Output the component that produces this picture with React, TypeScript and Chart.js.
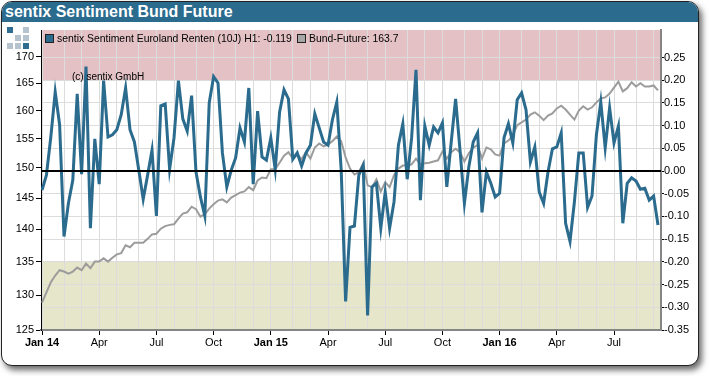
import React, { useEffect, useRef } from "react";
import { Chart, registerables } from "chart.js";

Chart.register(...registerables);

const sentimentValues = [
  -0.042, -0.009, 0.075, 0.174, 0.102, -0.144, -0.071, -0.02, 0.17, -0.007,
  0.23, -0.126, 0.071, -0.029, 0.199, 0.075, 0.08, 0.091, 0.124, 0.183,
  0.091, 0.064, 0.002, -0.062, -0.009, 0.046, -0.099, 0.144, 0.148, 0.004,
  0.073, 0.199, 0.115, 0.088, 0.166, -0.002, -0.057, -0.099, 0.15, 0.208,
  0.194, 0.04, -0.035, 0.002, 0.029, 0.095, 0.064, 0.183, -0.029, 0.132,
  0.031, 0.024, 0.073, 0.004, 0.13, 0.179, 0.159, 0.026, 0.04, 0.011,
  0.04, 0.057, 0.126, 0.095, 0.064, 0.057, 0.113, 0.152, 0.002, -0.287,
  -0.124, -0.121, -0.009, 0.013, -0.318, -0.035, -0.027, -0.126, -0.046, -0.126,
  -0.068, 0.057, 0.104, -0.018, 0.073, 0.223, -0.064, 0.099, 0.057, 0.097,
  0.084, 0.106, -0.035, 0.064, 0.159, 0.046, -0.071, 0.009, 0.064, 0.084,
  -0.091, -0.002, -0.027, -0.057, -0.049, 0.073, 0.104, 0.062, 0.157, 0.172,
  0.135, 0.02, 0.053, -0.046, -0.071, -0.002, 0.049, 0.053, 0.084, -0.115,
  -0.155, -0.068, 0.04, 0.04, -0.08, -0.055, 0.08, 0.152, 0.051, 0.139,
  0.062, 0.099, -0.115, -0.027, -0.015, -0.022, -0.04, -0.038, -0.064, -0.055,
  -0.119,
];

const bundFutureValues = [
  128.9, 130.4, 131.9, 132.9, 133.7, 133.5, 133.2, 133.5, 134.1, 133.7,
  134.7, 134.0, 135.0, 135.0, 135.5, 135.0, 135.6, 136.1, 136.3, 137.5,
  137.2, 137.9, 137.9, 137.9, 138.5, 139.2, 139.3, 140.1, 140.5, 140.7,
  140.8, 141.7, 142.5, 142.7, 143.6, 143.2, 142.0, 142.4, 143.3, 144.0,
  144.6, 144.8, 144.3, 145.1, 145.5, 145.9, 146.1, 146.8, 146.3, 147.9,
  148.4, 148.3, 149.8, 149.8, 150.9, 152.1, 152.7, 151.6, 152.3, 151.5,
  152.7, 151.6, 153.5, 154.2, 153.7, 154.0, 154.6, 155.4, 154.6, 151.8,
  149.9, 148.9, 149.3, 150.8, 147.1, 146.8, 148.1, 146.1, 147.6, 146.8,
  148.8, 149.9, 150.4, 150.4, 150.6, 151.6, 150.6, 150.8, 150.9, 151.1,
  151.3, 152.8, 151.6, 152.7, 153.3, 152.7, 151.1, 152.5, 153.5, 153.9,
  151.6, 153.5, 153.2, 152.3, 152.1, 154.2, 154.7, 155.6, 157.4, 157.9,
  158.4, 159.3, 159.7, 159.1, 158.3, 159.1, 159.5, 160.4, 160.9, 160.2,
  159.3, 158.4, 160.0, 160.8, 160.2, 160.6, 161.5, 162.2, 162.4, 163.1,
  164.2, 165.3, 163.5, 164.1, 165.2, 164.4, 165.0, 164.4, 164.4, 164.6,
  163.7,
];

const monthStartWeeks = [
  0, 5, 9, 13, 17, 22, 26, 30, 35, 39, 44, 48, 52, 57, 61, 65, 69, 74, 78, 83,
  87, 91, 96, 100, 104, 109, 113, 117, 122, 126, 130, 135, 139,
];
const labelledWeeks = [0, 13, 26, 39, 52, 65, 78, 91, 104, 117, 130];
const labelledNames = ["Jan 14", "Apr", "Jul", "Oct", "Jan 15", "Apr", "Jul", "Oct", "Jan 16", "Apr", "Jul"];
const leftTicks = [125, 130, 135, 140, 145, 150, 155, 160, 165, 170];
const rightTicks = [-0.35, -0.3, -0.25, -0.2, -0.15, -0.1, -0.05, 0, 0.05, 0.1, 0.15, 0.2, 0.25];

const FONT = '"Liberation Sans", Arial, sans-serif';
const BLUE = "#2a6b8e";

const logoCells: [number, number, string][] = [
  [7, 27, "#2f6d90"], [23, 27, "#b4c3cd"],
  [15, 35, "#b4c3cd"], [23, 35, "#b4c3cd"],
  [7, 43, "#b4c3cd"], [15, 43, "#b4c3cd"], [23, 43, "#2f6d90"],
];

const bandsAndZero = {
  id: "bandsAndZero",
  beforeDraw(chart: any) {
    const { ctx, chartArea: a, scales } = chart;
    const y = scales.yRight;
    ctx.save();
    ctx.fillStyle = "#e3c1c4";
    ctx.fillRect(a.left, a.top, a.width, y.getPixelForValue(0.2) - a.top);
    ctx.fillStyle = "#e6e6cb";
    const lo = y.getPixelForValue(-0.2);
    ctx.fillRect(a.left, lo, a.width, a.bottom - lo);
    ctx.restore();
  },
  afterDatasetsDraw(chart: any) {
    const { ctx, chartArea: a, scales } = chart;
    const z = scales.yRight.getPixelForValue(0);
    ctx.save();
    ctx.strokeStyle = "#000";
    ctx.lineWidth = 2;
    ctx.beginPath();
    ctx.moveTo(a.left, z);
    ctx.lineTo(a.right, z);
    ctx.stroke();
    ctx.restore();
  },
};

export default function App() {
  const ref = useRef<HTMLCanvasElement | null>(null);

  useEffect(() => {
    document.body.style.margin = "0";
    const chart = new Chart(ref.current as HTMLCanvasElement, {
      type: "line",
      plugins: [bandsAndZero],
      data: {
        datasets: [
          {
            label: "sentix Sentiment Euroland Renten (10J)",
            data: sentimentValues.map((v, i) => ({ x: i, y: v })),
            yAxisID: "yRight",
            borderColor: BLUE,
            borderWidth: 3,
            pointRadius: 0,
            tension: 0,
            borderJoinStyle: "miter",
          },
          {
            label: "Bund-Future",
            data: bundFutureValues.map((v, i) => ({ x: i, y: v })),
            yAxisID: "yLeft",
            borderColor: "#9c9c9c",
            borderWidth: 2,
            pointRadius: 0,
            tension: 0,
          },
        ],
      },
      options: {
        animation: false,
        responsive: false,
        layout: { padding: { left: 8, right: 21, top: 30, bottom: 16 } },
        plugins: { legend: { display: false }, title: { display: false }, tooltip: { enabled: false } },
        scales: {
          x: {
            type: "linear",
            min: -0.23,
            max: 140.68,
            afterBuildTicks: (s: any) => {
              s.ticks = monthStartWeeks.map((value) => ({ value }));
            },
            afterFit: (s: any) => {
              s.height = 30;
            },
            grid: {
              color: "#dcdcdc",
              lineWidth: 1,
              tickLength: 5,
              tickColor: (c: any) => (labelledWeeks.includes(c.tick?.value) ? "#000" : "rgba(0,0,0,0)"),
            },
            border: { display: true, color: "#858585", width: 2 },
            ticks: {
              autoSkip: false,
              maxRotation: 0,
              padding: 1,
              color: "#000",
              font: (c: any) => {
                const idx = labelledWeeks.indexOf(c.tick?.value);
                const bold = idx >= 0 && labelledNames[idx].startsWith("Jan");
                return { family: FONT, size: 11, weight: bold ? "bold" : "normal" };
              },
              callback: (v: any) => {
                const idx = labelledWeeks.indexOf(Number(v));
                return idx >= 0 ? labelledNames[idx] : "";
              },
            },
          },
          yLeft: {
            type: "logarithmic",
            position: "left",
            min: 125,
            max: 175.2,
            afterBuildTicks: (s: any) => {
              s.ticks = leftTicks.map((value) => ({ value }));
            },
            afterFit: (s: any) => {
              s.width = 33;
            },
            grid: { drawOnChartArea: false, tickLength: 5, tickColor: "#000" },
            border: { display: true, color: "#000", width: 1 },
            ticks: {
              padding: 2,
              color: "#000",
              autoSkip: false,
              font: { family: FONT, size: 11 },
              callback: (v: any) => String(v),
            },
          },
          yRight: {
            type: "linear",
            position: "right",
            min: -0.35,
            max: 0.3106,
            afterBuildTicks: (s: any) => {
              s.ticks = rightTicks.map((value) => ({ value }));
            },
            afterFit: (s: any) => {
              s.width = 28;
            },
            grid: { color: "#dcdcdc", lineWidth: 1, tickLength: 3, tickColor: "#000" },
            border: { display: true, color: "#858585", width: 2 },
            ticks: {
              padding: 0,
              crossAlign: "near",
              color: "#000",
              autoSkip: false,
              font: { family: FONT, size: 11 },
              callback: (v: any) => Number(v).toFixed(2),
            },
          },
        },
      },
    } as any);
    return () => chart.destroy();
  }, []);

  const textBase: React.CSSProperties = {
    position: "absolute",
    fontFamily: FONT,
    color: "#000",
    whiteSpace: "nowrap",
  };
  const swatch = (left: number, bg: string): React.CSSProperties => ({
    position: "absolute",
    left,
    top: 34,
    width: 7,
    height: 7,
    background: bg,
    border: "1px solid #222",
  });

  return (
    <div style={{ position: "relative", width: 710, height: 376, overflow: "hidden", background: "#fff" }}>
      <div
        style={{
          position: "absolute",
          left: 1,
          top: 1,
          width: 696,
          height: 363,
          borderRadius: 11,
          border: "1px solid #222",
          background: "#fff",
          boxShadow: "3px 4px 6px rgba(0,0,0,0.6)",
          overflow: "hidden",
        }}
      >
        <div style={{ position: "absolute", left: 0, top: 0, right: 0, height: 20, background: "#2a6b8e" }} />
      </div>
      <div
        style={{
          ...textBase,
          left: 5,
          top: 1,
          color: "#fff",
          fontWeight: "bold",
          fontSize: 16,
          lineHeight: "21px",
        }}
      >
        sentix Sentiment Bund Future
      </div>
      {logoCells.map(([l, t, c], i) => (
        <div key={i} style={{ position: "absolute", left: l, top: t, width: 6, height: 6, background: c }} />
      ))}
      <canvas ref={ref} width={710} height={376} style={{ position: "absolute", left: 0, top: 0, display: "block" }} />
      <div style={swatch(45, BLUE)} />
      <div style={{ ...textBase, left: 57, top: 32, fontSize: 10.4, lineHeight: "13px" }}>
        sentix Sentiment Euroland Renten (10J) H1: -0.119
      </div>
      <div style={swatch(297, "#a6a6a6")} />
      <div style={{ ...textBase, left: 309, top: 32, fontSize: 10.4, lineHeight: "13px" }}>Bund-Future: 163.7</div>
      <div style={{ ...textBase, left: 72, top: 71, fontSize: 10, lineHeight: "12px" }}>(c) sentix GmbH</div>
    </div>
  );
}
